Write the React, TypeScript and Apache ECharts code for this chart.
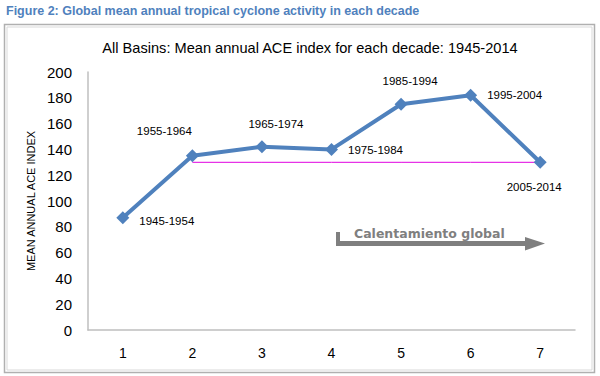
import React, { useEffect, useRef } from "react";
import * as echarts from "echarts";

const categories = ["1", "2", "3", "4", "5", "6", "7"];
const decades = ["1945-1954", "1955-1964", "1965-1974", "1975-1984", "1985-1994", "1995-2004", "2005-2014"];
const aceValues = [87, 135, 142, 140, 175, 182, 130];
const referenceLevel = [null, 130, 130, 130, 130, 130, 130];

const figureTitle = "Figure 2: Global mean annual tropical cyclone activity in each decade";
const chartTitle = "All Basins: Mean annual ACE index for each decade: 1945-2014";
const yAxisName = "MEAN ANNUAL ACE INDEX";
const arrowText = "Calentamiento global";

const labelLayouts: any[] = [
  { position: "right", distance: 10, offset: [0, 3] },
  { position: "top", distance: 12, offset: [-28, 0] },
  { position: "top", distance: 10, offset: [14, 0] },
  { position: "right", distance: 10, offset: [0, 1] },
  { position: "top", distance: 11, offset: [9, 0] },
  { position: "right", distance: 10, offset: [0, 0] },
  { position: "bottom", distance: 12, offset: [-6, 0] },
];

const FONT = "'Liberation Sans', Arial, sans-serif";

export default function App() {
  const ref = useRef<HTMLDivElement>(null);
  useEffect(() => {
    if (!ref.current) return;
    const chart = echarts.init(ref.current, undefined, { renderer: "svg" });
    chart.setOption({
      animation: false,
      backgroundColor: "#ffffff",
      textStyle: { fontFamily: FONT },
      grid: { left: 88, right: 25, top: 72, bottom: 46 },
      xAxis: {
        type: "category",
        data: categories,
        boundaryGap: true,
        axisLine: { lineStyle: { color: "#bfbfbf", width: 1.5 } },
        axisTick: { show: false },
        axisLabel: { color: "#000", fontSize: 14, margin: 16, fontFamily: FONT },
      },
      yAxis: {
        type: "value",
        min: 0,
        max: 200,
        interval: 20,
        name: yAxisName,
        nameLocation: "middle",
        nameRotate: 90,
        nameGap: 52,
        nameTextStyle: { color: "#000", fontSize: 11, fontFamily: FONT },
        axisLine: { show: true, lineStyle: { color: "#bfbfbf", width: 1.5 } },
        axisTick: { show: false },
        splitLine: { show: false },
        axisLabel: { color: "#000", fontSize: 15, margin: 16, fontFamily: FONT },
      },
      series: [
        {
          type: "line",
          data: referenceLevel,
          symbol: "none",
          lineStyle: { color: "#e000e0", width: 1 },
          z: 1,
          silent: true,
        },
        {
          type: "line",
          data: aceValues.map((v, i) => ({
            value: v,
            label: {
              show: true,
              formatter: decades[i],
              color: "#000",
              fontSize: 11.5,
              fontFamily: FONT,
              ...labelLayouts[i],
            },
          })),
          symbol: "diamond",
          symbolSize: 13,
          itemStyle: { color: "#4f81bd" },
          lineStyle: { color: "#4f81bd", width: 4 },
          z: 3,
        },
      ],
      graphic: [
        {
          type: "rect",
          shape: { x: 4.5, y: 24.5, width: 590, height: 348 },
          style: { fill: "none", stroke: "#b0b0b0", lineWidth: 1.5 },
          z: -1,
        },
        {
          type: "rect",
          shape: { x: 7, y: 27, width: 585, height: 343 },
          style: { fill: "none", stroke: "#d9d9d9", lineWidth: 1 },
          z: -1,
        },
        {
          type: "text",
          x: 6,
          y: 11,
          style: {
            text: figureTitle,
            fill: "#4f81bd",
            font: `bold 12.5px ${FONT}`,
            textVerticalAlign: "middle",
          },
        },
        {
          type: "text",
          x: 310,
          y: 48,
          style: {
            text: chartTitle,
            fill: "#000",
            font: `14.6px ${FONT}`,
            textAlign: "center",
            textVerticalAlign: "middle",
          },
        },
        {
          type: "polygon",
          shape: {
            points: [
              [336, 232], [340, 232], [340, 241], [525, 241], [525, 237],
              [545, 243.5], [525, 250.5], [525, 246], [336, 246],
            ],
          },
          style: { fill: "#7f7f7f" },
        },
        {
          type: "text",
          x: 354,
          y: 233,
          style: {
            text: arrowText,
            fill: "#7f7f7f",
            font: `bold 12.5px 'DejaVu Sans', Verdana, sans-serif`,
            textVerticalAlign: "middle",
          },
        },
      ],
    });
    return () => chart.dispose();
  }, []);
  return (
    <div style={{ position: "fixed", left: 0, top: 0, width: 600, height: 376 }}>
      <div ref={ref} style={{ width: 600, height: 376 }} />
    </div>
  );
}
